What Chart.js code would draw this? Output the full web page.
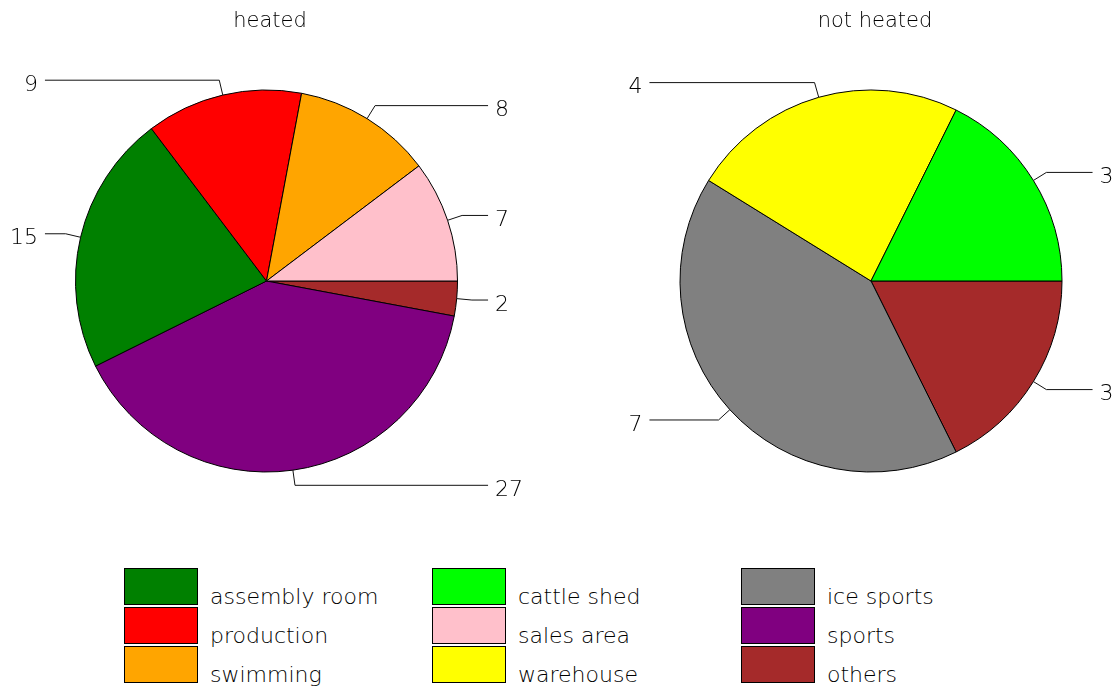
<!DOCTYPE html>
<html>
<head>
<meta charset="utf-8">
<script src="https://cdn.jsdelivr.net/npm/chart.js@4"></script>
<style>
  body { margin: 0; background: #fff; }
  #page { position: relative; width: 1120px; height: 688px; overflow: hidden;
          font-family: "DejaVu Sans", sans-serif; font-weight: 200; color: #000; }
  canvas { position: absolute; top: 0; }
  .title { position: absolute; top: 10px; font-size: 21px; line-height: 21px;
           transform: translateX(-50%); white-space: nowrap; }
  .swatch { position: absolute; width: 72px; height: 35px; border: 1px solid #000; }
  .item { position: absolute; font-size: 22px; line-height: 22px; white-space: nowrap; }
</style>
</head>
<body>
<div id="page">
  <canvas id="heated" width="560" height="520" style="left:0"></canvas>
  <canvas id="notHeated" width="560" height="520" style="left:560px"></canvas>
  <div class="title" style="left:270px">heated</div>
  <div class="title" style="left:875px">not heated</div>
  <div id="legend"></div>
</div>
<script>
// slices listed clockwise starting at 3 o'clock
const heatedLabels = ["others", "sports", "assembly room", "production", "swimming", "sales area"];
const heatedValues = [2, 27, 15, 9, 8, 7];

const notHeatedLabels = ["others", "ice sports", "warehouse", "cattle shed"];
const notHeatedValues = [3, 7, 4, 3];

// legend, column by column
const legendLabels = [
  "assembly room", "production", "swimming",
  "cattle shed", "sales area", "warehouse",
  "ice sports", "sports", "others"
];

const colors = {
  "assembly room": "#008000",
  "production": "#ff0000",
  "swimming": "#ffa500",
  "cattle shed": "#00ff00",
  "sales area": "#ffc0cb",
  "warehouse": "#ffff00",
  "ice sports": "#808080",
  "sports": "#800080",
  "others": "#a52a2a"
};

// value labels with a bent leader line, like R's pie labels
const leaderLabels = {
  id: "leaderLabels",
  afterDraw(chart) {
    const ctx = chart.ctx;
    const meta = chart.getDatasetMeta(0);
    const values = chart.data.datasets[0].data;
    ctx.save();
    ctx.strokeStyle = "#111";
    ctx.fillStyle = "#000";
    ctx.lineWidth = 1;
    ctx.font = "200 22px 'DejaVu Sans'";
    ctx.textBaseline = "middle";
    meta.data.forEach((arc, i) => {
      const p = arc.getProps(["x", "y", "startAngle", "endAngle", "outerRadius"], true);
      const mid = (p.startAngle + p.endAngle) / 2;
      const r = p.outerRadius;
      const cos = Math.cos(mid), sin = Math.sin(mid);
      const side = cos < 0 ? -1 : 1;
      const ex = p.x + cos * r, ey = p.y + sin * r;
      const bx = p.x + cos * r * 1.08, by = p.y + sin * r * 1.08;
      const endX = p.x + side * r * 1.16;
      ctx.beginPath();
      ctx.moveTo(ex, ey);
      ctx.lineTo(bx, by);
      ctx.lineTo(endX, by);
      ctx.stroke();
      ctx.textAlign = side < 0 ? "right" : "left";
      ctx.fillText(String(values[i]), endX + side * 7, by + 5);
    });
    ctx.restore();
  }
};

function makePie(id, labels, values, padding) {
  new Chart(document.getElementById(id), {
    type: "pie",
    data: {
      labels: labels,
      datasets: [{
        data: values,
        backgroundColor: labels.map(l => colors[l]),
        borderColor: "#000",
        borderWidth: 1
      }]
    },
    options: {
      responsive: false,
      animation: false,
      rotation: 90,
      layout: { padding: padding },
      plugins: {
        legend: { display: false },
        tooltip: { enabled: false }
      }
    },
    plugins: [leaderLabels]
  });
}

makePie("heated", heatedLabels, heatedValues, { left: 75, right: 102, top: 89.5, bottom: 47.5 });
makePie("notHeated", notHeatedLabels, notHeatedValues, { left: 119.5, right: 57.5, top: 89.5, bottom: 47.5 });

// legend: 3 columns x 3 rows
const legend = document.getElementById("legend");
const colX = [124, 432, 741];
const rowY = [568, 607, 646];
legendLabels.forEach((label, i) => {
  const c = Math.floor(i / 3), r = i % 3;
  const sw = document.createElement("div");
  sw.className = "swatch";
  sw.style.left = colX[c] + "px";
  sw.style.top = rowY[r] + "px";
  sw.style.background = colors[label];
  legend.appendChild(sw);
  const t = document.createElement("div");
  t.className = "item";
  t.style.left = (colX[c] + 86) + "px";
  t.style.top = (rowY[r] + 18) + "px";
  t.textContent = label;
  legend.appendChild(t);
});
</script>
</body>
</html>
